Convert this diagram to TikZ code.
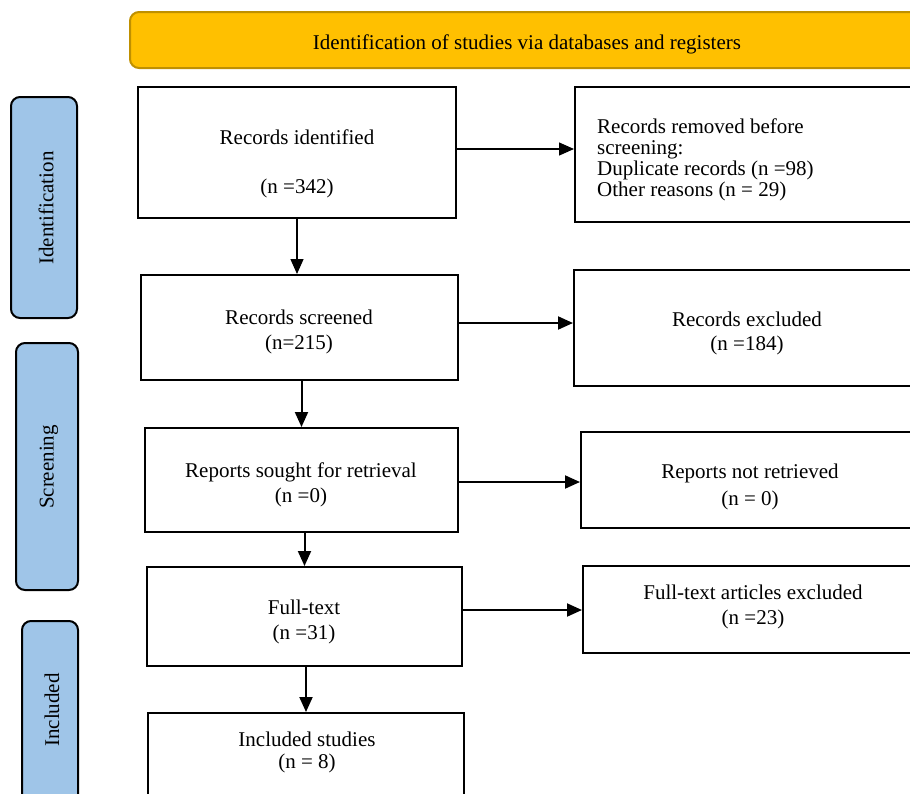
\documentclass[tikz,border=0pt]{standalone}
\usepackage{fontspec}
\setmainfont{Liberation Serif}
\usetikzlibrary{arrows.meta}
\definecolor{bannerfill}{HTML}{FFC000}
\definecolor{bannerdraw}{HTML}{BF9000}
\definecolor{labelfill}{HTML}{9FC5E8}
\begin{document}
\begin{tikzpicture}[x=1pt,y=-1pt,
  box/.style={draw=black,line width=2pt,rectangle,inner sep=0pt},
  lab/.style={draw=black,line width=2pt,rectangle,rounded corners=9pt,fill=labelfill,inner sep=0pt},
  txt/.style={inner sep=0pt,align=center,font=\fontsize{21}{25}\selectfont},
  vtxt/.style={inner sep=0pt,rotate=90,font=\fontsize{21}{23}\selectfont},
  arr/.style={line width=2pt,-{Triangle[length=15pt,width=13pt]}},
  thinarr/.style={line width=1.3pt,-{Triangle[length=15pt,width=13pt]}}]
\useasboundingbox (0,0) rectangle (910,793);
% banner
\node[draw=bannerdraw,line width=2pt,fill=bannerfill,rounded corners=9pt,minimum width=794pt,minimum height=56pt,inner sep=0pt] (ban) at (527,40) {};
\node[txt] (bant) at (527,44) {Identification of studies via databases and registers};
% phase labels
\node[lab,minimum width=66pt,minimum height=221pt] (l1) at (44,207.5) {};
\node[vtxt] (l1t) at (46,208) {Identification};
\node[lab,minimum width=62pt,minimum height=247pt] (l2) at (47,466.5) {};
\node[vtxt] (l2t) at (49,467) {Screening};
\node[lab,minimum width=56pt,minimum height=190pt] (l3) at (50,716) {};
\node[vtxt] (l3t) at (52,710) {Included};
% main boxes
\node[box,minimum width=318pt,minimum height=131pt] (b1) at (297,152.5) {};
\node[txt] (b1t) at (297,164) {Records identified\\[24pt](n =342)};
\node[box,minimum width=345pt,minimum height=135pt] (r1) at (747.5,154.5) {};
\node[inner sep=0pt,align=left,anchor=west,font=\fontsize{21}{20.8}\selectfont] (r1t) at (597,160) {Records removed before\\screening:\\Duplicate records (n =98)\\Other reasons (n = 29)};
\node[box,minimum width=317pt,minimum height=105pt] (b2) at (299.5,327.5) {};
\node[txt] (b2t) at (299,332) {Records screened\\(n=215)};
\node[box,minimum width=346pt,minimum height=116pt] (r2) at (747,328) {};
\node[txt,font=\fontsize{21}{24}\selectfont] (r2t) at (747,333) {Records excluded\\(n =184)};
\node[box,minimum width=313pt,minimum height=104pt] (b3) at (301.5,480) {};
\node[txt] (b3t) at (301,485) {Reports sought for retrieval\\(n =0)};
\node[box,minimum width=338pt,minimum height=96pt] (r3) at (750,480) {};
\node[txt,font=\fontsize{21}{27}\selectfont] (r3t) at (750,487) {Reports not retrieved\\(n = 0)};
\node[box,minimum width=315pt,minimum height=99pt] (b4) at (304.5,616.5) {};
\node[txt] (b4t) at (304,622) {Full-text\\(n =31)};
\node[box,minimum width=340pt,minimum height=87pt] (r4) at (753,609.5) {};
\node[txt] (r4t) at (753,607) {Full-text articles excluded\\(n =23)};
\node[box,minimum width=316pt,minimum height=94pt] (b5) at (306,760) {};
\node[txt,font=\fontsize{21}{22}\selectfont] (b5t) at (307,752) {Included studies\\(n = 8)};
% connectors
\coordinate (a1) at ([yshift=3.5pt]b1.east);
\draw[thinarr] (a1) -- (a1 -| r1.west);
\coordinate (a2) at ([yshift=4.5pt]b2.east);
\draw[arr] (a2) -- (a2 -| r2.west);
\coordinate (a3) at ([yshift=-2pt]b3.east);
\draw[arr] (a3) -- (a3 -| r3.west);
\coordinate (a4) at ([yshift=6.5pt]b4.east);
\draw[arr] (a4) -- (a4 -| r4.west);
\draw[thinarr] (b1.south) -- (b1.south |- b2.north);
\draw[arr] (b3.north |- b2.south) -- (b3.north);
\draw[arr] (b4.north |- b3.south) -- (b4.north);
\draw[arr] (b5.north |- b4.south) -- (b5.north);
\end{tikzpicture}
\end{document}
